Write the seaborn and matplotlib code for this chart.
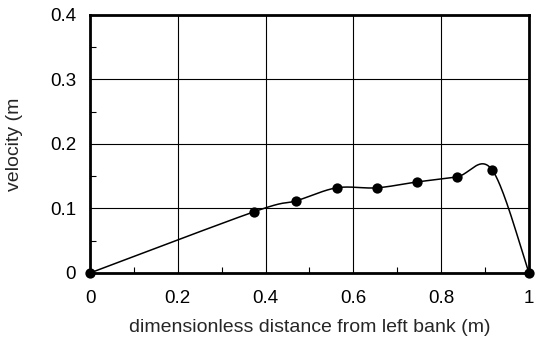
import numpy as np
import pandas as pd
import seaborn as sns
import matplotlib
matplotlib.use("Agg")
import matplotlib.pyplot as plt
from matplotlib.ticker import MultipleLocator

# Measured velocity across the channel section
distance = [0.0, 0.374, 0.470, 0.562, 0.653, 0.744, 0.836, 0.916, 1.0]
velocity = [0.0, 0.095, 0.112, 0.132, 0.132, 0.141, 0.149, 0.160, 0.0]

x_ticks = [0, 0.2, 0.4, 0.6, 0.8, 1.0]
x_tick_labels = ["0", "0.2", "0.4", "0.6", "0.8", "1"]
y_ticks = [0, 0.1, 0.2, 0.3, 0.4]
y_tick_labels = ["0", "0.1", "0.2", "0.3", "0.4"]


def smooth_curve(xs, ys, steps=40):
    """Bezier smoothing through the points (spreadsheet-style smoothed line)."""
    p = np.column_stack([xs, ys])
    n = len(p)
    out = [p[0]]
    for i in range(n - 1):
        p0 = p[i - 1] if i > 0 else p[i]
        p1, p2 = p[i], p[i + 1]
        p3 = p[i + 2] if i + 2 < n else p[i + 1]
        c1 = p1 + (p2 - p0) / 6.0
        c2 = p2 - (p3 - p1) / 6.0
        t = np.linspace(0, 1, steps)[1:, None]
        seg = ((1 - t) ** 3) * p1 + 3 * ((1 - t) ** 2) * t * c1 + 3 * (1 - t) * t ** 2 * c2 + t ** 3 * p2
        out.extend(seg)
    out = np.array(out)
    return out[:, 0], out[:, 1]


sns.set_theme(style="white")
plt.rcParams["font.family"] = ["Liberation Sans", "DejaVu Sans"]

fig = plt.figure(figsize=(5.37, 3.47), dpi=100)
ax = fig.add_axes([0.1676, 0.2133, 0.8174, 0.7437])

sx, sy = smooth_curve(distance, velocity)
curve = pd.DataFrame({"x": sx, "y": sy})
points = pd.DataFrame({"x": distance, "y": velocity})

sns.lineplot(data=curve, x="x", y="y", ax=ax, color="black", linewidth=1.1,
             sort=False, estimator=None, zorder=3)
sns.scatterplot(data=points, x="x", y="y", ax=ax, color="black", s=55,
                edgecolor="black", linewidth=0, zorder=4, clip_on=False)

ax.set_xlim(0, 1)
ax.set_ylim(0, 0.4)
ax.set_xticks(x_ticks)
ax.set_xticklabels(x_tick_labels)
ax.set_yticks(y_ticks)
ax.set_yticklabels(y_tick_labels)
ax.xaxis.set_minor_locator(MultipleLocator(0.1))
ax.yaxis.set_minor_locator(MultipleLocator(0.05))

ax.grid(True, which="major", color="black", linewidth=0.8)
ax.set_axisbelow(True)
for side in ax.spines.values():
    side.set_visible(True)
    side.set_color("black")
    side.set_linewidth(2.0)

ax.tick_params(which="major", length=0, labelsize=13.5, colors="black")
ax.tick_params(axis="x", which="major", pad=12)
ax.tick_params(axis="y", which="major", pad=10)
ax.tick_params(which="minor", direction="in", length=4, width=0.8, color="black",
               bottom=True, left=True)

ax.set_xlabel("dimensionless distance from left bank (m)", fontsize=14, labelpad=9)
ax.set_ylabel("velocity (m", fontsize=14, labelpad=19)

fig.savefig("out.png", dpi=100)
